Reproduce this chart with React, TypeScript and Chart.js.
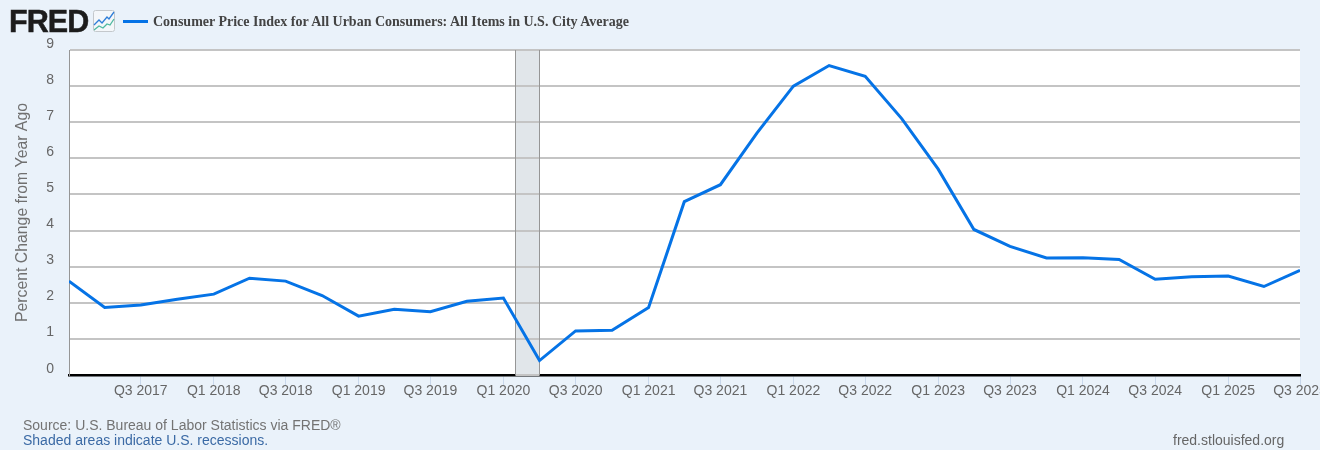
import React, { useEffect, useRef } from "react";
import { Chart, registerables } from "chart.js";

Chart.register(...registerables);

const quarters = [
  "Q1 2017","Q2 2017","Q3 2017","Q4 2017","Q1 2018","Q2 2018","Q3 2018","Q4 2018",
  "Q1 2019","Q2 2019","Q3 2019","Q4 2019","Q1 2020","Q2 2020","Q3 2020","Q4 2020",
  "Q1 2021","Q2 2021","Q3 2021","Q4 2021","Q1 2022","Q2 2022","Q3 2022","Q4 2022",
  "Q1 2023","Q2 2023","Q3 2023","Q4 2023","Q1 2024","Q2 2024","Q3 2024","Q4 2024",
  "Q1 2025","Q2 2025","Q3 2025",
];
const cpiChange = [
  2.6, 1.87, 1.94, 2.1, 2.24, 2.68, 2.6, 2.2,
  1.63, 1.82, 1.75, 2.04, 2.13, 0.4, 1.22, 1.24,
  1.87, 4.8, 5.27, 6.7, 8.0, 8.57, 8.27, 7.1,
  5.7, 4.03, 3.56, 3.24, 3.25, 3.2, 2.65, 2.72,
  2.74, 2.45, 2.9,
];
const tickQuarters = [
  "Q3 2017","Q1 2018","Q3 2018","Q1 2019","Q3 2019","Q1 2020","Q3 2020","Q1 2021",
  "Q3 2021","Q1 2022","Q3 2022","Q1 2023","Q3 2023","Q1 2024","Q3 2024","Q1 2025","Q3 2025",
];
const recessionStart = Date.UTC(2020, 1, 1);
const recessionEnd = Date.UTC(2020, 3, 1);
const yTicks = [0, 1, 2, 3, 4, 5, 6, 7, 8, 9];

const seriesName = "Consumer Price Index for All Urban Consumers: All Items in U.S. City Average";
const yTitle = "Percent Change from Year Ago";

const BG = "#eaf2fa";
const LINE = "#0573e6";
const GRID = "#c4c4c4";

const quarterTime = (q: string) => {
  const [a, y] = q.split(" ");
  return Date.UTC(Number(y), (Number(a[1]) - 1) * 3, 1);
};

const recessionPlugin = {
  id: "recession",
  beforeDatasetsDraw(chart: any) {
    const { ctx, chartArea, scales } = chart;
    const x0 = Math.floor(scales.x.getPixelForValue(recessionStart)) + 0.5;
    const x1 = Math.floor(scales.x.getPixelForValue(recessionEnd)) + 0.5;
    ctx.save();
    ctx.fillStyle = "#e1e6ea";
    ctx.fillRect(x0, chartArea.top, x1 - x0, chartArea.bottom - chartArea.top);
    ctx.strokeStyle = GRID;
    ctx.lineWidth = 2;
    ctx.beginPath();
    for (const v of yTicks) {
      const y = Math.round(scales.y.getPixelForValue(v));
      ctx.moveTo(x0, y);
      ctx.lineTo(x1, y);
    }
    ctx.stroke();
    ctx.strokeStyle = "#969696";
    ctx.lineWidth = 1;
    ctx.beginPath();
    ctx.moveTo(x0, chartArea.top);
    ctx.lineTo(x0, chartArea.bottom);
    ctx.moveTo(x1, chartArea.top);
    ctx.lineTo(x1, chartArea.bottom);
    ctx.stroke();
    ctx.restore();
  },
};

const plotBgPlugin = {
  id: "plotBg",
  beforeDraw(chart: any) {
    const { ctx, chartArea } = chart;
    ctx.save();
    ctx.fillStyle = "#ffffff";
    ctx.fillRect(chartArea.left, chartArea.top, chartArea.right - chartArea.left, chartArea.bottom - chartArea.top);
    ctx.restore();
  },
};

const abs = (left: number, top: number, extra: React.CSSProperties = {}): React.CSSProperties => ({
  position: "absolute",
  left,
  top,
  whiteSpace: "nowrap",
  ...extra,
});

export default function App() {
  const ref = useRef<HTMLCanvasElement>(null);

  useEffect(() => {
    document.body.style.margin = "0";
    document.body.style.background = BG;
    const chart = new Chart(ref.current as HTMLCanvasElement, {
      type: "line",
      data: {
        datasets: [
          {
            label: seriesName,
            data: quarters.map((q, i) => ({ x: quarterTime(q), y: cpiChange[i] })),
            borderColor: LINE,
            borderWidth: 3,
            pointRadius: 0,
            tension: 0,
            fill: false,
          },
        ],
      },
      options: {
        animation: false,
        responsive: false,
        parsing: false,
        layout: { padding: { top: 50, right: 20, left: 0, bottom: 0 } },
        plugins: {
          legend: { display: false },
          title: { display: false },
          tooltip: { enabled: false },
        },
        scales: {
          x: {
            type: "linear",
            min: quarterTime(quarters[0]),
            max: quarterTime(quarters[quarters.length - 1]),
            afterBuildTicks(s: any) {
              s.ticks = tickQuarters.map((q) => ({ value: quarterTime(q) }));
            },
            afterFit(s: any) {
              s.height = 75;
              s.paddingLeft = 0;
              s.paddingRight = 0;
            },
            grid: {
              drawOnChartArea: false,
              drawTicks: true,
              tickLength: 10,
              tickColor: "#c9d8ec",
              tickWidth: 1,
            },
            border: { display: true, color: "#000000", width: 2.5 },
            ticks: {
              autoSkip: false,
              maxRotation: 0,
              minRotation: 0,
              padding: -2,
              color: "#666666",
              font: { family: "'Liberation Sans', Arial, sans-serif", size: 14 },
              callback(v: any) {
                const q = tickQuarters.find((t) => quarterTime(t) === v);
                return q ?? "";
              },
            },
          },
          y: {
            type: "linear",
            min: 0,
            max: 9,
            afterBuildTicks(s: any) {
              s.ticks = yTicks.map((v) => ({ value: v }));
            },
            afterFit(s: any) {
              s.width = 69;
              s.paddingTop = 0;
              s.paddingBottom = 0;
            },
            grid: { color: GRID, lineWidth: 2, drawTicks: false },
            border: { display: true, color: "#969696", width: 1 },
            title: {
              display: true,
              text: yTitle,
              color: "#707070",
              font: { family: "'Liberation Sans', Arial, sans-serif", size: 15.8 },
              padding: { top: 13, bottom: 0 },
            },
            ticks: {
              padding: 15,
              color: "#666666",
              font: { family: "'Liberation Sans', Arial, sans-serif", size: 14, lineHeight: 0.9 },
              callback(v: any) {
                return [String(v), ""];
              },
            },
          },
        },
      } as any,
      plugins: [plotBgPlugin, recessionPlugin],
    });
    return () => chart.destroy();
  }, []);

  const sans = "'Liberation Sans', Arial, sans-serif";
  return (
    <div style={{ position: "relative", width: 1320, height: 450, background: BG, overflow: "hidden" }}>
      <canvas ref={ref} width={1320} height={450} style={{ display: "block", position: "absolute", left: 0, top: 0 }} />
      <div style={abs(9, 1, { font: `bold 30.5px/40px ${sans}`, color: "#1c1c1c", letterSpacing: -0.9, WebkitTextStroke: "0.5px #1c1c1c" })}>FRED</div>
      <svg width="22" height="22" viewBox="0 0 22 22" style={abs(93, 10)}>
        <rect x="0.5" y="0.5" width="21" height="21" rx="2" fill="#f4f7fa" stroke="#c4c8cc" />
        <polyline points="1,15 6,10 9,13 14,7 16,9 21,2" fill="none" stroke="#2f7ed8" strokeWidth="1.3" />
        <polyline points="1,20 6,16 10,18 14,14 17,15 21,9" fill="none" stroke="#4fb8a0" strokeWidth="1.3" />
      </svg>
      <div style={abs(123, 20, { width: 25, height: 3, background: LINE })} />
      <div style={abs(153, 14, { font: `bold 14px/16px 'Liberation Serif', serif`, color: "#444444" })}>{seriesName}</div>
      <div style={abs(23, 417, { font: `14px/16px ${sans}`, color: "#737373" })}>Source: U.S. Bureau of Labor Statistics via FRED®</div>
      <div style={abs(23, 432, { font: `14px/16px ${sans}`, color: "#3b6aa5" })}>Shaded areas indicate U.S. recessions.</div>
      <div style={abs(1173, 432, { font: `14px/16px ${sans}`, color: "#666666" })}>fred.stlouisfed.org</div>
    </div>
  );
}
